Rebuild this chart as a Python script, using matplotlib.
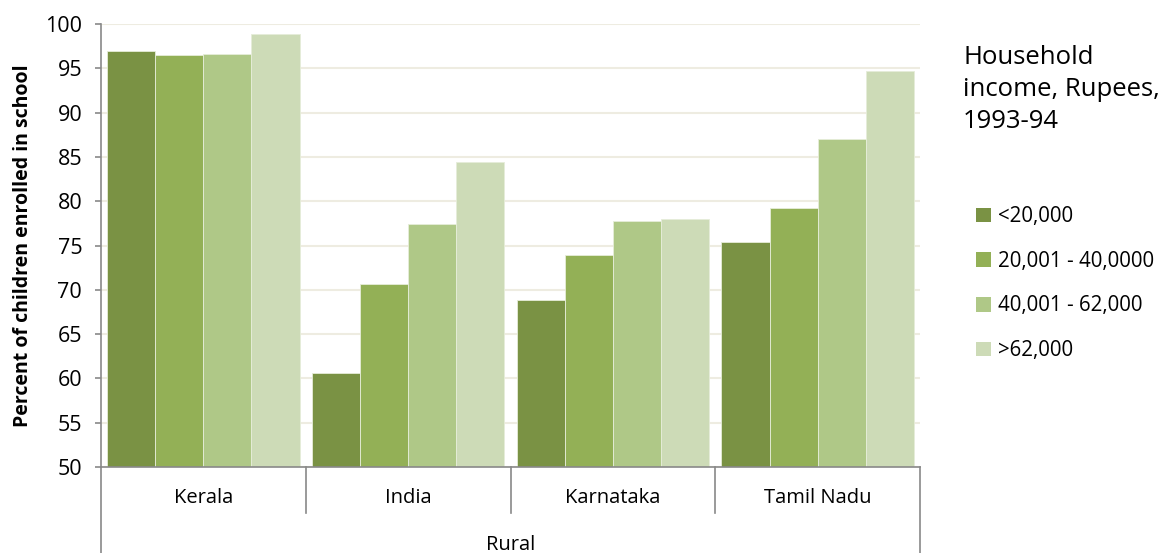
import matplotlib
matplotlib.use("Agg")
import matplotlib.pyplot as plt
from matplotlib.patches import Patch
from matplotlib.lines import Line2D
import numpy as np

plt.rcParams['font.family'] = ['Open Sans', 'DejaVu Sans']

states = ["Kerala", "India", "Karnataka", "Tamil Nadu"]
income_groups = ["<20,000", "20,001 - 40,0000", "40,001 - 62,000", ">62,000"]
under_20k = [96.9, 60.6, 68.8, 75.4]
from_20k_to_40k = [96.5, 70.7, 73.9, 79.2]
from_40k_to_62k = [96.6, 77.4, 77.8, 87.0]
over_62k = [98.9, 84.4, 78.0, 94.7]
series = [under_20k, from_20k_to_40k, from_40k_to_62k, over_62k]
colors = ["#7A9244", "#93B056", "#AFC887", "#CDDBB7"]
outer_label = "Rural"
legend_title = "Household\nincome, Rupees,\n1993-94"
y_label = "Percent of children enrolled in school"

W, H = 1161, 553
fig = plt.figure(figsize=(W / 100, H / 100), dpi=100)
ax = fig.add_axes([101 / W, 1 - 467 / H, (920 - 101) / W, (467 - 24) / H])

x = np.arange(len(states))
n = len(series)
group_w = 0.94
bw = group_w / n
for i, (vals, c) in enumerate(zip(series, colors)):
    ax.bar(x - group_w / 2 + bw * (i + 0.5), vals, width=bw, color=c,
           edgecolor="#E6EDD9", linewidth=0.6, label=income_groups[i], zorder=2)

ax.set_xlim(-0.5, len(states) - 0.5)
ax.set_ylim(50, 100)
ax.set_yticks(np.arange(50, 101, 5))
ax.yaxis.grid(True, color="#EEECE1", linewidth=1.5, zorder=0)
ax.set_axisbelow(True)
for s in ["top", "right"]:
    ax.spines[s].set_visible(False)
for s in ["left", "bottom"]:
    ax.spines[s].set_color("#898989")
    ax.spines[s].set_linewidth(1.2)
ax.tick_params(axis="y", direction="out", length=4.5, color="#898989", width=1.2,
               labelsize=15.5, pad=9)
ax.set_xticks([])
ax.set_ylabel(y_label, fontsize=14, fontweight="bold")
ax.yaxis.set_label_coords((33 - 101) / (920 - 101), 0.5)

# Two-level category axis below the plot
trans = ax.get_xaxis_transform()
ph = 467 - 24
inner_bottom = -(513 - 467) / ph
outer_bottom = -(553 - 467) / ph
for b in np.arange(-0.5, len(states), 1.0):
    yb = outer_bottom if b in (-0.5, len(states) - 0.5) else inner_bottom
    ax.add_line(Line2D([b, b], [0, yb], transform=trans, color="#898989",
                       linewidth=1.2, clip_on=False))
for xi, name in zip(x, states):
    ax.text(xi, -(498 - 467) / ph, name, transform=trans, ha="center",
            va="center", fontsize=14.5)
ax.text((len(states) - 1) / 2, -(545 - 467) / ph, outer_label,
        transform=trans, ha="center", va="center", fontsize=14.5)

# Legend
fig.text(963 / W, 1 - 45 / H, legend_title, ha="left", va="top",
         fontsize=18.5, linespacing=1.36)
handles = [Patch(facecolor=c, edgecolor="none") for c in colors]
fig.legend(handles, income_groups, loc="upper left",
           bbox_to_anchor=(968 / W, 1 - 198 / H), frameon=False,
           fontsize=14.8, handlelength=0.7, handleheight=0.7,
           handletextpad=0.35, labelspacing=1.15, borderaxespad=0)

fig.savefig("out.png", dpi=100)
